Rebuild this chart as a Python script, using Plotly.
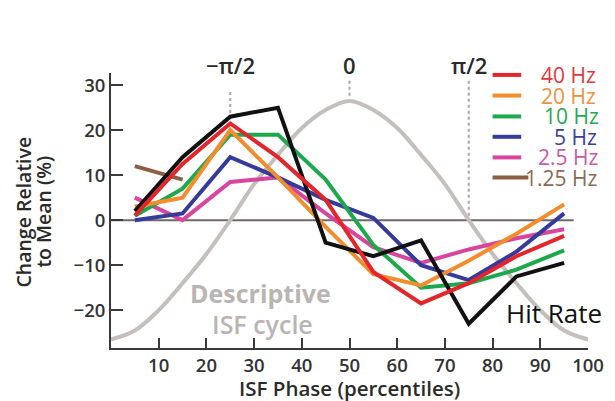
import plotly.graph_objects as go

phase = [5, 15, 25, 35, 45, 55, 65, 75, 85, 95]
hit_rate = [2, 14, 23, 25, -5, -8, -4.5, -23, -12.5, -9.5]
hz40 = [1, 12.5, 21.5, 14, 4.5, -11.5, -18.5, -14, -8, -3.5]
hz20 = [3, 5, 20, 9.5, -1.5, -12, -14.5, -9, -3, 3.5]
hz10 = [1, 7, 19, 19, 9, -5.5, -15, -14, -11, -6.7]
hz5 = [0, 1.5, 14, 9.5, 4.5, 0.5, -10, -13.3, -7, 1.5]
hz2_5 = [5, 0, 8.5, 9.5, 1.5, -6, -9.5, -6.5, -4, -2]
hz1_25 = [12, 9, None, None, None, None, None, None, None, None]

cycle_x = [0, 5, 10, 15, 20, 25, 30, 35, 40, 45, 50, 55, 60, 65, 70, 75, 80, 85, 90, 95, 100]
cycle_y = [-26.5, -24.5, -20, -14, -7.5, 0, 8, 14.5, 20.5, 24.5, 26.5,
           24.5, 20.5, 14.5, 8, 0, -7.5, -14, -20, -24.5, -26.5]

phase_marks = [25, 50, 75]
phase_labels = ["\u2212\u03c0/2", "0", "\u03c0/2"]

x_ticks = [10, 20, 30, 40, 50, 60, 70, 80, 90, 100]
y_ticks = [-20, -10, 0, 10, 20, 30]

legend_names = ["40 Hz", "20 Hz", "10 Hz", "5 Hz", "2.5 Hz", "1.25 Hz"]
series = [hz40, hz20, hz10, hz5, hz2_5, hz1_25]
colors = ["#e3262b", "#f28c2c", "#1ea84c", "#363a9a", "#d8459e", "#8a5f43"]
text_colors = ["#e0393a", "#ef9040", "#2aa850", "#3c3f98", "#c85aa8", "#8a6a55"]

FONT = "Open Sans"
fig = go.Figure()

fig.add_trace(go.Scatter(x=cycle_x, y=cycle_y, mode="lines", line=dict(color="#c4bebd", width=4, shape="spline"),
                         hoverinfo="skip", showlegend=False))

draw_order = [5, 4, 3, 2, 1]
for i in draw_order:
    fig.add_trace(go.Scatter(x=phase, y=series[i], mode="lines", line=dict(color=colors[i], width=4),
                             name=legend_names[i], showlegend=False))
fig.add_trace(go.Scatter(x=phase, y=hit_rate, mode="lines", line=dict(color="#111111", width=4),
                         name="Hit Rate", showlegend=False))
fig.add_trace(go.Scatter(x=phase, y=hz40, mode="lines", line=dict(color=colors[0], width=4),
                         name=legend_names[0], showlegend=False))

shapes = []
shapes.append(dict(type="line", xref="x", yref="y", x0=0, x1=97, y0=0, y1=0,
                   line=dict(color="#6e6868", width=2), layer="below"))
dot_spans = [(28.5, 22), (31, 27), (31, 0)]
for xm, (ya, yb) in zip(phase_marks, dot_spans):
    shapes.append(dict(type="line", xref="x", yref="y", x0=xm, x1=xm, y0=ya, y1=yb,
                       line=dict(color="#a9a3a3", width=2, dash="dot"), layer="below"))

annotations = []
for xm, lab in zip(phase_marks, phase_labels):
    annotations.append(dict(x=xm, y=1.03, xref="x", yref="paper", text=lab, showarrow=False,
                            font=dict(family=FONT, size=22, color="#2a2a2a", weight=600),
                            xanchor="center", yanchor="middle"))

leg_y = [0.993, 0.918, 0.842, 0.768, 0.693, 0.620]
leg_tx = [0.900, 0.900, 0.906, 0.926, 0.894, 0.866]
for name, c, tc, ly, tx in zip(legend_names, colors, text_colors, leg_y, leg_tx):
    x1 = 0.875 if name == "1.25 Hz" else 0.86
    shapes.append(dict(type="line", xref="paper", yref="paper", x0=0.8, x1=x1, y0=ly, y1=ly,
                       line=dict(color=c, width=4)))
    annotations.append(dict(x=tx, y=ly, xref="paper", yref="paper", text=name, showarrow=False,
                            font=dict(family=FONT, size=21, color=tc, weight=500), borderpad=0,
                            xanchor="left", yanchor="middle"))

annotations.append(dict(x=82.3, y=-20.7, xref="x", yref="y", text="Hit Rate", showarrow=False,
                        font=dict(family=FONT, size=26, color="#111111", weight=500),
                        xanchor="left", yanchor="middle"))
annotations.append(dict(x=31.3, y=-16.1, xref="x", yref="y", text="Descriptive", showarrow=False,
                        font=dict(family=FONT, size=25, color="#bab4b2", weight=700),
                        xanchor="center", yanchor="middle"))
annotations.append(dict(x=31.8, y=-23.0, xref="x", yref="y", text="ISF cycle", showarrow=False,
                        font=dict(family=FONT, size=25, color="#bab4b2", weight=600),
                        xanchor="center", yanchor="middle"))
annotations.append(dict(x=0.499, y=-0.145, xref="paper", yref="paper", text="ISF Phase (percentiles)",
                        showarrow=False, font=dict(family=FONT, size=20.5, color="#2a2a2a", weight=600),
                        xanchor="center", yanchor="middle"))
annotations.append(dict(x=-0.183, y=0.495, xref="paper", yref="paper", text="Change Relative",
                        showarrow=False, textangle=-90, borderpad=0,
                        font=dict(family=FONT, size=19.5, color="#2a2a2a", weight=600),
                        xanchor="center", yanchor="middle"))
annotations.append(dict(x=-0.141, y=0.495, xref="paper", yref="paper", text="to Mean (%)",
                        showarrow=False, textangle=-90, borderpad=0,
                        font=dict(family=FONT, size=19.5, color="#2a2a2a", weight=600),
                        xanchor="center", yanchor="middle"))

fig.update_layout(
    width=615, height=401,
    margin=dict(l=111, r=11, t=73, b=53),
    paper_bgcolor="#ffffff", plot_bgcolor="#ffffff",
    shapes=shapes, annotations=annotations,
    showlegend=False,
    xaxis=dict(range=[0, 100], tickvals=x_ticks, ticks="inside", ticklen=10, tickwidth=2,
               tickcolor="#3a3a3a", showline=True, linecolor="#3a3a3a", linewidth=2,
               showgrid=False, zeroline=False, ticklabeloverflow="allow",
               tickfont=dict(family=FONT, size=18.5, color="#333333", weight=600)),
    yaxis=dict(range=[-28.4, 32.7], tickvals=y_ticks, ticks="inside", ticklen=12, tickwidth=2,
               tickcolor="#3a3a3a", showline=True, linecolor="#3a3a3a", linewidth=2,
               showgrid=False, zeroline=False,
               tickfont=dict(family=FONT, size=18.5, color="#333333", weight=600)),
)

fig.write_html("out.html", config={"displayModeBar": False},
               post_script="document.body.style.margin='0px';document.documentElement.style.overflow='hidden';document.body.style.overflow='hidden';")
